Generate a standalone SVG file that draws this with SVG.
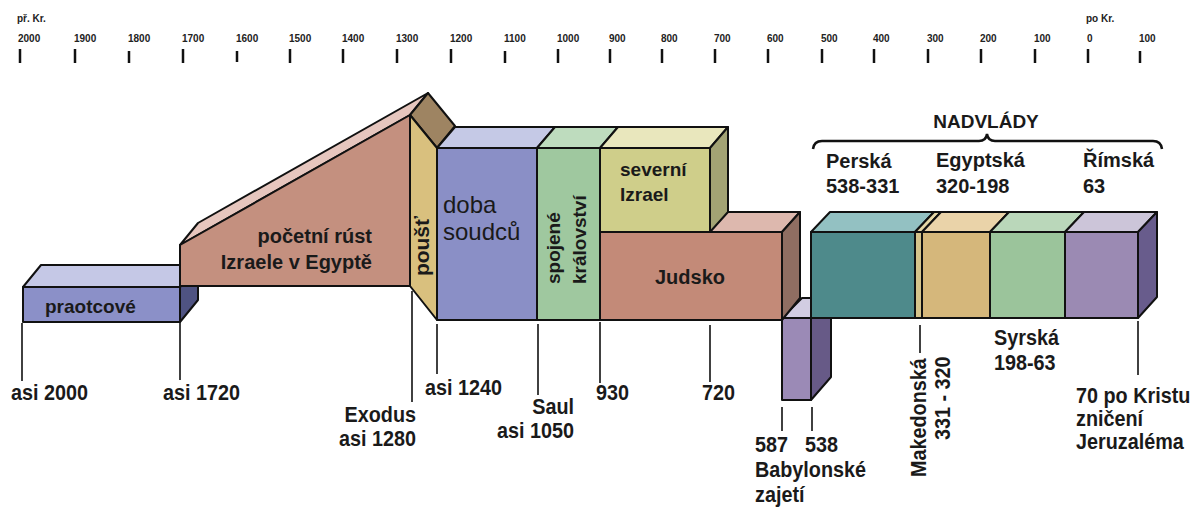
<svg xmlns="http://www.w3.org/2000/svg" width="1198" height="508" viewBox="0 0 1198 508">
<style>
.t{font-family:"Liberation Sans",Arial,sans-serif;font-weight:bold;fill:#1a1a1a}
.ax{font-size:10px;fill:#222}
.lb{font-size:22px}
.bk{stroke:#111;stroke-width:2;stroke-linejoin:round}
.tk{stroke:#111;stroke-width:2.5}
.ln{stroke:#111;stroke-width:1.6;fill:none}
</style>
<rect width="1198" height="508" fill="#fff"/>

<g id="axis">
<text class="t ax" x="17" y="22">př. Kr.</text>
<text class="t ax" x="1086" y="22">po Kr.</text>
<g class="t ax">
<text x="18" y="42">2000</text><text x="74" y="42">1900</text><text x="128" y="42">1800</text><text x="182" y="42">1700</text><text x="236" y="42">1600</text><text x="289" y="42">1500</text><text x="342" y="42">1400</text><text x="396" y="42">1300</text><text x="450" y="42">1200</text><text x="504" y="42">1100</text><text x="557" y="42">1000</text><text x="609" y="42">900</text><text x="661" y="42">800</text><text x="714" y="42">700</text><text x="767" y="42">600</text><text x="821" y="42">500</text><text x="873" y="42">400</text><text x="927" y="42">300</text><text x="980" y="42">200</text><text x="1034" y="42">100</text><text x="1087" y="42">0</text><text x="1139" y="42">100</text>
</g>
<g class="tk">
<line x1="20" y1="49" x2="20" y2="63"/><line x1="75" y1="49" x2="75" y2="63"/><line x1="129" y1="51" x2="129" y2="63"/><line x1="183" y1="49" x2="183" y2="63"/><line x1="237" y1="51" x2="237" y2="62"/><line x1="290" y1="49" x2="290" y2="63"/><line x1="343" y1="49" x2="343" y2="63"/><line x1="397" y1="49" x2="397" y2="63"/><line x1="451" y1="49" x2="451" y2="63"/><line x1="505" y1="51" x2="505" y2="63"/><line x1="558" y1="49" x2="558" y2="63"/><line x1="610" y1="49" x2="610" y2="63"/><line x1="662" y1="49" x2="662" y2="63"/><line x1="715" y1="49" x2="715" y2="63"/><line x1="768" y1="49" x2="768" y2="63"/><line x1="822" y1="49" x2="822" y2="63"/><line x1="874" y1="49" x2="874" y2="63"/><line x1="928" y1="49" x2="928" y2="63"/><line x1="981" y1="49" x2="981" y2="63"/><line x1="1035" y1="49" x2="1035" y2="63"/><line x1="1088" y1="49" x2="1088" y2="63"/><line x1="1140" y1="51" x2="1140" y2="63"/>
</g>
</g>

<g id="connectors" class="ln">
<line x1="22" y1="323" x2="22" y2="381"/>
<line x1="180" y1="323" x2="180" y2="380"/>
<line x1="412" y1="291" x2="412" y2="402"/>
<line x1="437" y1="324" x2="437" y2="374"/>
<line x1="538" y1="324" x2="538" y2="395"/>
<line x1="600" y1="322" x2="600" y2="383"/>
<line x1="710" y1="325" x2="710" y2="382"/>
<line x1="782" y1="407" x2="782" y2="431"/>
<line x1="812" y1="407" x2="812" y2="431"/>
<line x1="920" y1="325" x2="920" y2="353"/>
<line x1="1138" y1="321" x2="1138" y2="375"/>
<path d="M813,149 Q814,141 822,141 L979,141 Q986,141 987,134 Q988,141 995,141 L1153,141 Q1161,141 1162,149" stroke-width="2.5"/>
</g>

<g id="praotcove">
<polygon class="bk" points="180,287 198,265 198,300 180,322" fill="#4f5382"/>
<polygon class="bk" points="23,287 41,265 198,265 180,287" fill="#c5c8e6"/>
<rect class="bk" x="23" y="287" width="157" height="35" fill="#8b90c8"/>
<text class="t" x="45" y="313" font-size="19" fill="#1f1f4f">praotcové</text>
</g>

<g id="egypt-growth">
<polygon class="bk" points="180,245 198,223 428,93 410,115" fill="#e6c6be"/>
<polygon class="bk" points="180,245 410,115 410,286 180,286" fill="#c4907f"/>
<text class="t" x="372" y="243" font-size="20" text-anchor="end" fill="#2b1b12">početní rúst</text>
<text class="t" x="372" y="269" font-size="20" text-anchor="end" fill="#2b1b12">Izraele v Egyptě</text>
</g>

<g id="poust">
<polygon class="bk" points="410,115 428,93 455,126 437,148" fill="#9e8462"/>
<polygon class="bk" points="410,115 437,148 437,320 410,286" fill="#d9c07e"/>
<text class="t" font-size="21" text-anchor="middle" transform="translate(429,246) rotate(-90)">poušť</text>
</g>

<g id="soudci">
<polygon class="bk" points="437,148 455,127 555,127 537,148" fill="#c5c9e6"/>
<rect class="bk" x="437" y="148" width="100" height="172" fill="#8a8fc6"/>
<text class="t" x="443" y="213" font-size="24" fill="#1e2260" style="font-weight:normal">doba</text>
<text class="t" x="443" y="240" font-size="24" fill="#1e2260" style="font-weight:normal">soudců</text>
</g>

<g id="spojene">
<polygon class="bk" points="537,148 555,127 618,127 600,148" fill="#bedcbe"/>
<rect class="bk" x="537" y="148" width="63" height="172" fill="#9fc89f"/>
<text class="t" font-size="19" transform="translate(560,284) rotate(-90)">spojené</text>
<text class="t" font-size="19" transform="translate(586,284) rotate(-90)">království</text>
</g>

<g id="judsko">
<polygon class="bk" points="600,232 618,212 800,212 782,232" fill="#ddb8ae"/>
<rect class="bk" x="600" y="232" width="182" height="88" fill="#c38a78"/>
<text class="t" x="655" y="284" font-size="20">Judsko</text>
</g>

<g id="babylon">
<polygon class="bk" points="782,318 802,298 831,298 811,318" fill="#d2cde2"/>
<polygon class="bk" points="811,318 831,298 831,377 811,400" fill="#675a87"/>
<rect class="bk" x="782" y="318" width="29" height="82" fill="#9b8ab6"/>
</g>

<g id="judsko-side">
<polygon class="bk" points="782,232 800,212 800,298 782,320" fill="#8f6e62"/>
</g>

<g id="severni">
<polygon class="bk" points="600,148 618,127 728,127 710,148" fill="#e9e7bd"/>
<polygon class="bk" points="710,148 728,127 728,212 710,232" fill="#a3a374"/>
<rect class="bk" x="600" y="148" width="110" height="84" fill="#cfce8a"/>
<text class="t" x="620" y="176" font-size="19">severní</text>
<text class="t" x="620" y="201" font-size="19">Izrael</text>
</g>

<g id="nadvlady">
<text class="t" x="986" y="128" font-size="19" text-anchor="middle">NADVLÁDY</text>
</g>

<g id="perska">
<polygon class="bk" points="811,232 830,212 934,212 915,232" fill="#93c1c2"/>
<rect class="bk" x="811" y="232" width="104" height="86" fill="#4e8a8b"/>
<text class="t" x="826" y="168" font-size="20">Perská</text>
<text class="t" x="826" y="193" font-size="20">538-331</text>
</g>

<g id="makedonska">
<polygon class="bk" points="915,232 934,212 941,212 922,232" fill="#e6d7a6"/>
<rect class="bk" x="915" y="232" width="7" height="86" fill="#d6c48a"/>
<text class="t" font-size="22" transform="translate(926,477) rotate(-90) scale(0.9,1)">Makedonská</text>
<text class="t" font-size="22" transform="translate(950,440) rotate(-90) scale(0.9,1)">331 - 320</text>
</g>

<g id="egyptska">
<polygon class="bk" points="922,232 941,212 1009,212 990,232" fill="#ead3a9"/>
<rect class="bk" x="922" y="232" width="68" height="86" fill="#d5b77b"/>
<text class="t" x="936" y="167" font-size="20">Egyptská</text>
<text class="t" x="936" y="193" font-size="20">320-198</text>
</g>

<g id="syrska">
<polygon class="bk" points="990,232 1009,212 1084,212 1065,232" fill="#bad7ba"/>
<rect class="bk" x="990" y="232" width="75" height="86" fill="#9bc49b"/>
<text class="t lb" transform="translate(994,345) scale(0.9,1)">Syrská</text>
<text class="t lb" transform="translate(994,370) scale(0.9,1)">198-63</text>
</g>

<g id="rimska">
<polygon class="bk" points="1065,232 1084,212 1157,212 1138,232" fill="#ccc5d9"/>
<polygon class="bk" points="1138,232 1157,212 1157,297 1138,318" fill="#685c8c"/>
<rect class="bk" x="1065" y="232" width="73" height="86" fill="#9b8ab3"/>
<text class="t" x="1083" y="167" font-size="20">Římská</text>
<text class="t" x="1083" y="193" font-size="20">63</text>
</g>

<g id="labels" class="t lb">
<text transform="translate(11,400) scale(0.9,1)">asi 2000</text>
<text transform="translate(163,400) scale(0.9,1)">asi 1720</text>
<text transform="translate(416,422) scale(0.9,1)" text-anchor="end">Exodus</text>
<text transform="translate(416,446) scale(0.9,1)" text-anchor="end">asi 1280</text>
<text transform="translate(425,395) scale(0.9,1)">asi 1240</text>
<text transform="translate(574,414) scale(0.9,1)" text-anchor="end">Saul</text>
<text transform="translate(574,438) scale(0.9,1)" text-anchor="end">asi 1050</text>
<text transform="translate(596,400) scale(0.9,1)">930</text>
<text transform="translate(702,400) scale(0.9,1)">720</text>
<text transform="translate(755,452) scale(0.9,1)">587</text>
<text transform="translate(805,452) scale(0.9,1)">538</text>
<text transform="translate(755,477) scale(0.9,1)">Babylonské</text>
<text transform="translate(755,502) scale(0.9,1)">zajetí</text>
<text transform="translate(1076,403) scale(0.9,1)">70 po Kristu</text>
<text transform="translate(1076,426) scale(0.9,1)">zničení</text>
<text transform="translate(1076,449) scale(0.9,1)">Jeruzaléma</text>
</g>
</svg>
